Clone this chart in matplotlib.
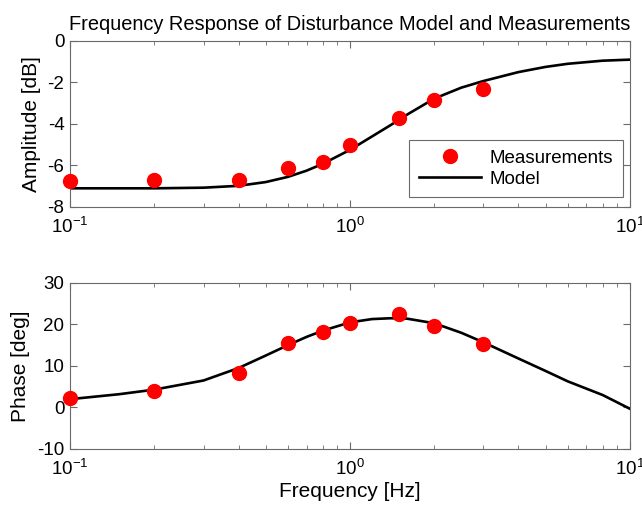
import numpy as np
import matplotlib.pyplot as plt
from matplotlib.ticker import LogLocator, NullFormatter

plt.rcParams['font.family'] = ['Liberation Sans', 'DejaVu Sans']
plt.rcParams['mathtext.fontset'] = 'custom'
plt.rcParams['mathtext.rm'] = 'Liberation Sans'
plt.rcParams['axes.unicode_minus'] = False

# measured points
meas_freq = [0.1, 0.2, 0.4, 0.6, 0.8, 1.0, 1.5, 2.0, 3.0]
meas_amp = [-6.75, -6.7, -6.7, -6.1, -5.85, -5.0, -3.7, -2.85, -2.3]
meas_phase = [2.2, 4.0, 8.3, 15.5, 18.3, 20.3, 22.5, 19.7, 15.2]

# model curve
model_freq = [0.1, 0.15, 0.2, 0.3, 0.4, 0.5, 0.6, 0.7, 0.8, 1.0, 1.2, 1.4,
              1.6, 2.0, 2.5, 3.0, 4.0, 5.0, 6.0, 8.0, 10.0]
model_amp = [-7.1, -7.1, -7.1, -7.07, -6.98, -6.8, -6.55, -6.25, -5.92, -5.25,
             -4.6, -4.05, -3.55, -2.78, -2.25, -1.93, -1.5, -1.25, -1.1, -0.95, -0.9]
model_phase = [2.0, 3.2, 4.3, 6.5, 9.5, 12.5, 15.0, 17.0, 18.5, 20.5, 21.3, 21.5,
               21.4, 20.3, 18.0, 15.7, 11.8, 8.8, 6.3, 3.0, -0.3]

EDGE = '#6a6a6a'


def style_axis(ax, ylim, yticks):
    ax.set_xscale('log')
    ax.set_xlim(0.1, 10)
    ax.set_ylim(*ylim)
    ax.set_yticks(yticks)
    ax.xaxis.set_major_locator(LogLocator(base=10, numticks=5))
    ax.xaxis.set_minor_locator(LogLocator(base=10, subs=np.arange(2, 10), numticks=10))
    ax.xaxis.set_minor_formatter(NullFormatter())
    ax.tick_params(which='both', direction='in', top=True, right=True,
                   labelsize=13.5, color=EDGE)
    ax.tick_params(axis='y', which='major', length=5, pad=4)
    ax.tick_params(axis='x', which='major', length=5, pad=7)
    ax.tick_params(which='minor', length=3)
    for s in ax.spines.values():
        s.set_linewidth(0.8)
        s.set_color(EDGE)


fig = plt.figure(figsize=(6.42, 5.14), dpi=100)
ax1 = fig.add_axes([0.109, 0.5973, 0.872, 0.323])
ax2 = fig.add_axes([0.109, 0.1265, 0.872, 0.323])

ax1.plot(meas_freq, meas_amp, 'o', color='#ff0000', markersize=10,
         label='Measurements', clip_on=False, zorder=3)
ax1.plot(model_freq, model_amp, '-', color='black', linewidth=1.9, label='Model')
style_axis(ax1, (-8, 0), [-8, -6, -4, -2, 0])
ax1.set_ylabel('Amplitude [dB]', fontsize=15, labelpad=5)
ax1.set_title('Frequency Response of Disturbance Model and Measurements',
              fontsize=14.4, pad=8)
leg = ax1.legend(loc='lower right', bbox_to_anchor=(1 - 7 / 560, 10 / 166),
                 borderaxespad=0, fontsize=13.5, fancybox=False, framealpha=1,
                 edgecolor=EDGE, borderpad=0.5, labelspacing=0.2,
                 handlelength=3.3, handletextpad=0.5)
leg.get_frame().set_linewidth(0.8)

ax2.plot(meas_freq, meas_phase, 'o', color='#ff0000', markersize=10,
         clip_on=False, zorder=3)
ax2.plot(model_freq, model_phase, '-', color='black', linewidth=1.9)
style_axis(ax2, (-10, 30), [-10, 0, 10, 20, 30])
ax2.set_ylabel('Phase [deg]', fontsize=15, labelpad=5)
ax2.set_xlabel('Frequency [Hz]', fontsize=15, labelpad=2)

fig.savefig('out.png', dpi=100)
